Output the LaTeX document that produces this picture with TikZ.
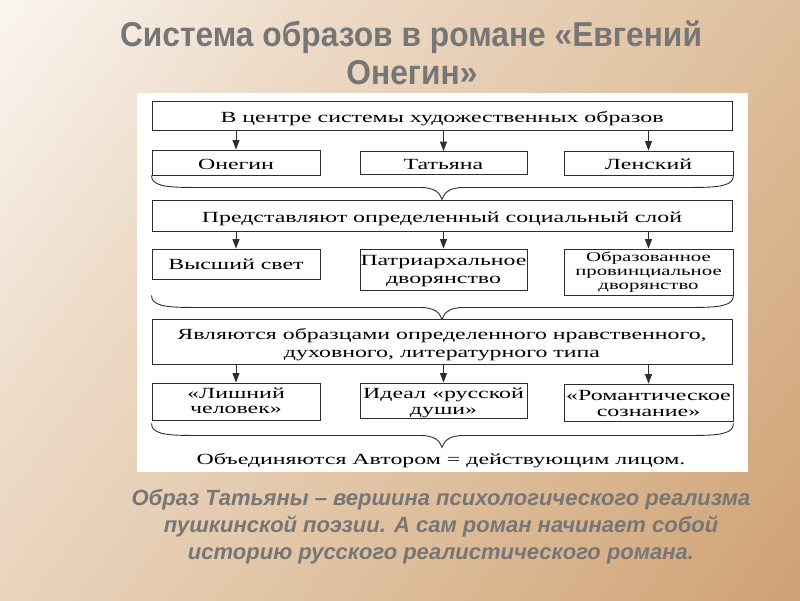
\documentclass[tikz,border=0pt]{standalone}
\usepackage{fontspec}
\setmainfont{Liberation Serif}
\newfontfamily\dfont{Liberation Serif}[FakeStretch=1.54]
\newfontfamily\tfont{Liberation Sans}[FakeStretch=0.92]
\newfontfamily\cfont{Liberation Sans}
\usetikzlibrary{arrows.meta,calc}
\definecolor{bgB}{RGB}{237,219,200}
\definecolor{bgC}{RGB}{224,194,161}
\definecolor{bgD}{RGB}{206,160,114}
\definecolor{bgE}{RGB}{200,152,105}
\definecolor{ink}{RGB}{45,45,45}
\definecolor{greytext}{RGB}{118,118,118}
\pgfdeclarehorizontalshading{bgsh}{100bp}{color(0bp)=(white); color(9bp)=(white); color(33bp)=(bgB); color(57bp)=(bgC); color(86bp)=(bgD); color(100bp)=(bgE)}
% box text: lowered by #1 px, rows in a centred tabular
\newcommand{\bt}[2][7]{\raisebox{-#1pt}[0pt][0pt]{\begin{tabular}{@{}c@{}}#2\end{tabular}}}
\newcommand{\mybrace}[3]{%
  \draw[brc] (#1) .. controls ($(#1)+(0,10)$) and ($(#1)+(13,12)$) .. ($(#1)+(40,12)$)
    -- ($(#3)+(-22,12)$) .. controls ($(#3)+(-8,12)$) and ($(#3)+(-2,17)$) .. ($(#3)+(0,24)$)
    .. controls ($(#3)+(2,17)$) and ($(#3)+(8,12)$) .. ($(#3)+(22,12)$)
    -- ($(#2)+(-40,12)$) .. controls ($(#2)+(-13,12)$) and ($(#2)+(0,10)$) .. (#2);}
\begin{document}
\begin{tikzpicture}[x=1pt,y=-1pt,
  dbox/.style={draw=ink, line width=0.9pt, inner sep=0pt, text=black,
     font=\dfont\fontsize{15.5}{18}\selectfont},
  bigbox/.style={dbox, minimum width=580},
  sbox/.style={dbox, minimum width=168},
  mbox/.style={dbox, minimum width=167},
  rbox/.style={dbox, minimum width=169},
  arr/.style={draw=ink, line width=0.9pt, -{Triangle[length=9.5pt,width=7pt]}},
  brc/.style={draw=ink, line width=0.9pt},
  titletext/.style={text=greytext, font=\tfont\bfseries\fontsize{34.5}{38}\selectfont, inner sep=0pt},
  captext/.style={text=greytext, font=\cfont\bfseries\itshape\fontsize{22}{27}\selectfont, inner sep=0pt, align=center}]
\useasboundingbox (0,0) rectangle (800,600);
\shade[shading=bgsh, shading angle=-36] (0,0) rectangle (800,600);
\fill[white] (137,93) rectangle (748,472);

\node[titletext] (t1) at (411,37) {Система образов в романе «Евгений};
\node[titletext] (t2) at (412,73) {Онегин»};

\node[bigbox, minimum height=29] (top) at (442,115.5) {\bt[6.5]{В центре системы художественных образов}};
\node[sbox, minimum height=25] (on) at (236,162.5) {\bt[7]{Онегин}};
\node[mbox, minimum height=23] (ta) at (443.5,163) {\bt[6.5]{Татьяна}};
\node[rbox, minimum height=24] (le) at (648.5,163) {\bt[6.5]{Ленский}};

\node[bigbox, minimum height=31] (soc) at (442,215.5) {\bt[6.5]{Представляют определенный социальный слой}};
\node[sbox, minimum height=30] (vs) at (236,264) {\bt[5]{Высший свет}};
\node[mbox, minimum height=41] (pa) at (443.5,269.5) {\bt[4.5]{Патриархальное\\дворянство}};
\node[rbox, minimum height=46, font=\dfont\fontsize{13.5}{14}\selectfont] (ob) at (648.5,272) {\bt[4]{Образованное\\провинциальное\\дворянство}};

\node[bigbox, minimum height=45] (typ) at (442,341.5) {\bt[7]{Являются образцами определенного нравственного,\\духовного, литературного типа}};
\node[sbox, minimum height=37, font=\dfont\fontsize{15.5}{15.5}\selectfont] (li) at (236,401.5) {\bt[5]{«Лишний\\человек»}};
\node[mbox, minimum height=35, font=\dfont\fontsize{15.5}{16}\selectfont] (id) at (443.5,400.5) {\bt[6]{Идеал «русской\\души»}};
\node[rbox, minimum height=37, font=\dfont\fontsize{15.5}{16.5}\selectfont] (ro) at (648.5,402.5) {\bt[6.5]{«Романтическое\\сознание»}};

\node[dbox, draw=none] (av) at (441,464) {\bt[0]{Объединяются Автором = действующим лицом.}};

\foreach \a/\b in {top/on, top/ta, top/le, soc/vs, soc/pa, soc/ob, typ/li, typ/id, typ/ro}
  \draw[arr] (\a.south -| \b.north) -- (\b.north);

\coordinate (b1l) at (on.south west);
\coordinate (b1r) at (le.south east);
\coordinate (b1m) at (b1l -| soc.north);
\mybrace{b1l}{b1r}{b1m}
\coordinate (b2l) at (vs.south west |- ob.south);
\coordinate (b2r) at (ob.south east);
\coordinate (b2m) at (b2l -| typ.north);
\mybrace{b2l}{b2r}{b2m}
\coordinate (b3l) at ($(li.south west |- ro.south)+(0,2)$);
\coordinate (b3r) at ($(ro.south east)+(0,2)$);
\coordinate (b3m) at (b3l -| top.north);
\mybrace{b3l}{b3r}{b3m}

\node[captext] (cap) at (441,527) {Образ Татьяны – вершина психологического реализма\\пушкинской поэзии. А сам роман начинает собой\\историю русского реалистического романа.};
\end{tikzpicture}
\end{document}
